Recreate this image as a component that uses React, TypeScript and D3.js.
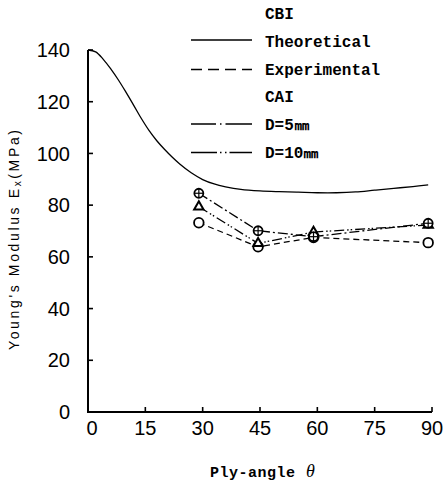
import React from 'react';
import * as d3 from 'd3';

// theoretical CBI curve
const thetaTheory = [0, 2, 4, 6, 8, 10, 12, 14, 16, 18, 20, 22, 24, 27, 30, 33, 36, 40, 45, 50, 55, 60, 65, 70, 75, 80, 85, 89];
const exTheory = [140, 139.3, 136.4, 132.6, 128.3, 123.5, 118.5, 113.4, 108.8, 104.9, 101.6, 98.6, 95.9, 92.5, 89.9, 88.2, 87.1, 86.1, 85.5, 85.2, 85, 84.8, 84.8, 85.1, 85.8, 86.5, 87.2, 87.8];

// measured points
const thetaMeas = [29, 44.5, 59, 89];
const exExperimental = [73.2, 63.9, 67.5, 65.5];
const exD5 = [84.6, 70.1, 67.8, 73];
const exD10 = [79.4, 65.2, 69.6, 72.3];

const xTicks = [0, 15, 30, 45, 60, 75, 90];
const yTicks = [0, 20, 40, 60, 80, 100, 120, 140];

const legendRows = ['CBI', 'Theoretical', 'Experimental', 'CAI', 'D=5㎜', 'D=10㎜'];

const mono = '"Liberation Mono", "DejaVu Sans Mono", monospace';
const narrow = '"Liberation Sans Narrow", "Liberation Sans", sans-serif';

export default function App() {
  const width = 443, height = 484;
  const x = d3.scaleLinear().domain([0, 90]).range([88, 432]);
  const y = d3.scaleLinear().domain([0, 140]).range([412, 50]);

  const theoryLine = d3.line<number>()
    .x((d, i) => x(thetaTheory[i]))
    .y(d => y(d))
    .curve(d3.curveCatmullRom.alpha(0.5));

  const measLine = d3.line<number>()
    .x((d, i) => x(thetaMeas[i]))
    .y(d => y(d));

  const tri = d3.symbol().type(d3.symbolTriangle).size(38)();

  return (
    <svg width={width} height={height} style={{ position: 'absolute', left: 0, top: 0, background: '#fff' }}>
      {/* axes */}
      <line x1={x(0)} x2={x(0)} y1={y(140)} y2={y(0) + 1} stroke="#000" strokeWidth={2} />
      <line x1={x(0) - 1} x2={x(90)} y1={y(0)} y2={y(0)} stroke="#000" strokeWidth={2} />
      {yTicks.map(t => (
        <g key={'y' + t}>
          <line x1={x(0)} x2={x(0) + 5} y1={y(t)} y2={y(t)} stroke="#000" strokeWidth={1.6} />
          <text x={70} y={y(t)} dy="0.36em" textAnchor="end" fontFamily={narrow} fontSize={20}>{t}</text>
        </g>
      ))}
      {xTicks.map(t => (
        <g key={'x' + t}>
          {t > 0 && <line x1={x(t)} x2={x(t)} y1={y(0)} y2={y(0) - 5} stroke="#000" strokeWidth={1.6} />}
          <text x={x(t) + (t === 0 ? 4 : 0)} y={435} textAnchor="middle" fontFamily={narrow} fontSize={20}>{t}</text>
        </g>
      ))}

      {/* axis titles */}
      <text transform="translate(19,240) rotate(-90)" textAnchor="middle" fontFamily={narrow} fontSize={14}
        textLength={220} lengthAdjust="spacing">
        Young's Modulus E<tspan fontSize={10} dy={2}>x</tspan><tspan dy={-2}>(MPa)</tspan>
      </text>
      <text x={210} y={477} fontFamily={mono} fontSize={15} fontWeight="bold" textLength={85} lengthAdjust="spacing">Ply-angle</text>
      <text x={306} y={477} fontFamily='"Liberation Serif", serif' fontStyle="italic" fontSize={18}>θ</text>

      {/* theoretical curve */}
      <path d={theoryLine(exTheory) || ''} fill="none" stroke="#000" strokeWidth={1.3} />

      {/* measured series */}
      <path d={measLine(exExperimental) || ''} fill="none" stroke="#000" strokeWidth={1.3} strokeDasharray="6,4" />
      <path d={measLine(exD5) || ''} fill="none" stroke="#000" strokeWidth={1.3} strokeDasharray="10,3,2,3" />
      <path d={measLine(exD10) || ''} fill="none" stroke="#000" strokeWidth={1.3} strokeDasharray="10,3,1.5,2,1.5,3" />

      {exExperimental.map((v, i) => (
        <circle key={'e' + i} cx={x(thetaMeas[i])} cy={y(v)} r={4.8} fill="#fff" stroke="#000" strokeWidth={1.8} />
      ))}
      {exD10.map((v, i) => (
        <path key={'t' + i} d={tri || ''} transform={`translate(${x(thetaMeas[i])},${y(v)})`} fill="#fff" stroke="#000" strokeWidth={2} />
      ))}
      {exD5.map((v, i) => (
        <g key={'c' + i} transform={`translate(${x(thetaMeas[i])},${y(v)})`}>
          <circle r={4.5} fill="#fff" stroke="#000" strokeWidth={1.8} />
          <line x1={-4.5} x2={4.5} y1={0} y2={0} stroke="#000" strokeWidth={1.2} />
          <line x1={0} x2={0} y1={-4.5} y2={4.5} stroke="#000" strokeWidth={1.2} />
        </g>
      ))}

      {/* legend */}
      {legendRows.map((r, i) => (
        <text key={r} x={265} y={19 + i * 27.8} fontFamily={mono} fontSize={16} fontWeight="bold">{r}</text>
      ))}
      <line x1={191} x2={252} y1={40} y2={40} stroke="#000" strokeWidth={1.4} />
      <line x1={191} x2={252} y1={69.5} y2={69.5} stroke="#000" strokeWidth={1.4} strokeDasharray="11,6" />
      <line x1={191} x2={252} y1={124} y2={124} stroke="#000" strokeWidth={1.4} strokeDasharray="25,4,1.5,4,30" />
      <line x1={191} x2={252} y1={152.5} y2={152.5} stroke="#000" strokeWidth={1.4} strokeDasharray="26,3,1.5,3.5,1.5,3,30" />
    </svg>
  );
}
